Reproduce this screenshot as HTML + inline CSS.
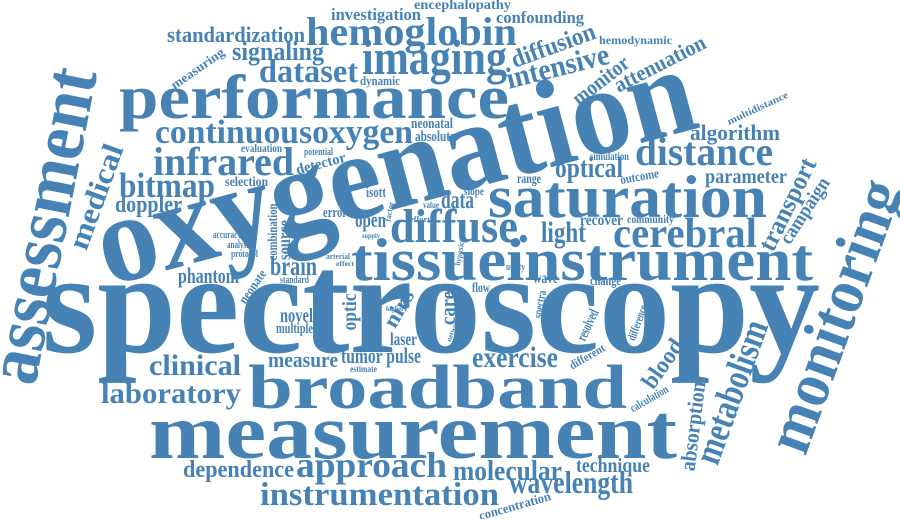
<!DOCTYPE html>
<html><head><meta charset="utf-8"><style>
html,body{margin:0;padding:0;background:#fff;}
svg{display:block;}
text{font-family:"Liberation Serif",serif;font-weight:bold;fill:#4682b4;}
</style></head><body>
<svg width="900" height="519" viewBox="0 0 900 519" xmlns="http://www.w3.org/2000/svg">
<g id="words"></g>
</svg>
<script>
// word, x, y, fontSize, length, angle, anchor
const words = [
["spectroscopy",42,352,145,778,0,"s"],
["oxygenation",108,286,125,615,-15,"s"],
["measurement",149,458,78,528,0,"s"],
["broadband",248,408,62,379,0,"s"],
["performance",119,118,62,390,0,"s"],
["saturation",488,217,60,279,0,"s"],
["tissueinstrument",351,280,60,462,0,"s"],
["diffuse.",390,242,48,139,0,"s"],
["imaging",362,74,50,145,0,"s"],
["hemoglobin",306,45,40,211,0,"s"],
["cerebral",613,247,42,144,0,"s"],
["distance",635,165,40,138,0,"s"],
["infrared",153,175,40,141,0,"s"],
["continuousoxygen",155,143,34,258,0,"s"],
["bitmap",119,197,35,96,0,"s"],
["doppler",115,212,24,67,0,"s"],
["dataset",259,82,33,99,0,"s"],
["signaling",232,60,26,92,0,"s"],
["standardization",167,42,22,138,0,"s"],
["investigation",331,20,17,90,0,"s"],
["encephalopathy",414,9,14,97,0,"s"],
["confounding",496,23,17,88,0,"s"],
["hemodynamic",599,44,12,73,0,"s"],
["algorithm",690,140,22,90,0,"s"],
["parameter",705,183,20,82,0,"s"],
["optical",555,177,28,68,0,"s"],
["light",541,242,30,45,0,"s"],
["clinical",149,375,30,92,0,"s"],
["laboratory",101,403,30,140,0,"s"],
["measure",268,367,22,70,0,"s"],
["tumor pulse",341,363,22,80,0,"s"],
["estimate",350,372,9,27,0,"s"],
["exercise",472,367,30,86,0,"s"],
["dependence",183,477,24,111,0,"s"],
["approach",296,477,36,151,0,"s"],
["molecular",453,480,28,109,0,"s"],
["technique",576,472,20,74,0,"s"],
["wavelength",509,493,32,124,0,"s"],
["instrumentation",260,505,33,239,0,"s"],
["laser",390,345,18,27,0,"s"],
["novel",280,322,20,33,0,"s"],
["multiple",276,333,15,37,0,"s"],
["brain",270,275,27,47,0,"s"],
["phantom",178,283,22,61,0,"s"],
["open",355,227,22,31,0,"s"],
["data",441,208,25,33,0,"s"],
["error",323,217,15,24,0,"s"],
["isott",366,197,15,20,0,"s"],
["selection",225,186,14,43,0,"s"],
["evaluation",241,152,12,41,0,"s"],
["potential",304,155,11,29,0,"s"],
["neonatal",411,128,15,42,0,"s"],
["absolute",415,141,15,40,0,"s"],
["dynamic",360,85,13,40,0,"s"],
["accuracy",213,238,10,28,0,"s"],
["analysis",227,248,10,24,0,"s"],
["protocol",231,257,10,27,0,"s"],
["standard",280,283,10,29,0,"s"],
["range",517,183,14,24,0,"s"],
["slope",464,195,12,20,0,"s"],
["value",423,208,9,16,0,"s"],
["simulation",590,160,12,39,0,"s"],
["outcome",621,184,13,39,-10,"s"],
["recover",580,225,16,43,0,"s"],
["community",627,223,12,47,0,"s"],
["wave",533,283,16,25,0,"s"],
["change",590,285,14,31,0,"s"],
["flow",472,292,14,18,0,"s"],
["utility",506,270,10,19,0,"s"],
["factor",392,212,8,20,-80,"m"],
["supply",362,238,7,18,0,"s"],
["effort",410,222,8,20,0,"s"],
["arterial",326,259,8,24,0,"s"],
["effect",336,266,7,18,0,"s"],
["hypoxic",462,254,8,24,-80,"m"],
["network",455,330,7,26,-70,"m"],
["higher",386,311,7,18,0,"s"],
["assessment",66,230,75,320,-78.8,"m"],
["medical",105,200,30,110,-70,"m"],
["monitoring",854,323,65,285,-70,"m"],
["metabolism",743,396,38,150,-70,"m"],
["transport",795,208,26,100,-64,"m"],
["campaign",810,214,20,75,-57,"m"],
["absorption",700,427,22,90,-83,"m"],
["blood",669,368,24,55,-55,"m"],
["calculation",651,402,12,42,-30,"m"],
["difference",641,324,12,37,-70,"m"],
["resolved",592,327,15,33,-65,"m"],
["different",589,360,12,39,-30,"m"],
["source",290,240,18,40,-90,"m"],
["combination",277,232,14,57,-90,"m"],
["nirs",405,312,22,40,-60,"m"],
["care",455,308,22,34,-90,"m"],
["optic",356,312,20,37,-90,"m"],
["neonate",256,289,13,38,-55,"m"],
["spectra",544,305,13,28,-80,"m"],
["detector",322,168,15,51,-15,"m"],
["concentration",516,510,13,74,-16,"m"],
["measuring",200,72,13,62,-35,"m"],
["monitor",605,86,22,66,-38,"m"],
["attenuation",663,70,22,100,-27,"m"],
["diffusion",556,53,25,88,-20,"m"],
["intensive",560,76,30,105,-14,"m"],
["multidistance",759,111,10,66,-25,"m"]
];
const g = document.getElementById('words');
const NS = 'http://www.w3.org/2000/svg';
for (const w of words) {
  const t = document.createElementNS(NS, 'text');
  t.setAttribute('x', w[1]);
  t.setAttribute('y', w[2]);
  t.setAttribute('font-size', w[3]);
  t.setAttribute('textLength', w[4]);
  t.setAttribute('lengthAdjust', 'spacingAndGlyphs');
  if (w[6] === 'm') t.setAttribute('text-anchor', 'middle');
  if (w[5]) t.setAttribute('transform', 'rotate(' + w[5] + ' ' + w[1] + ' ' + w[2] + ')');
  t.textContent = w[0];
  
  
  g.appendChild(t);
}
</script>
</body></html>
